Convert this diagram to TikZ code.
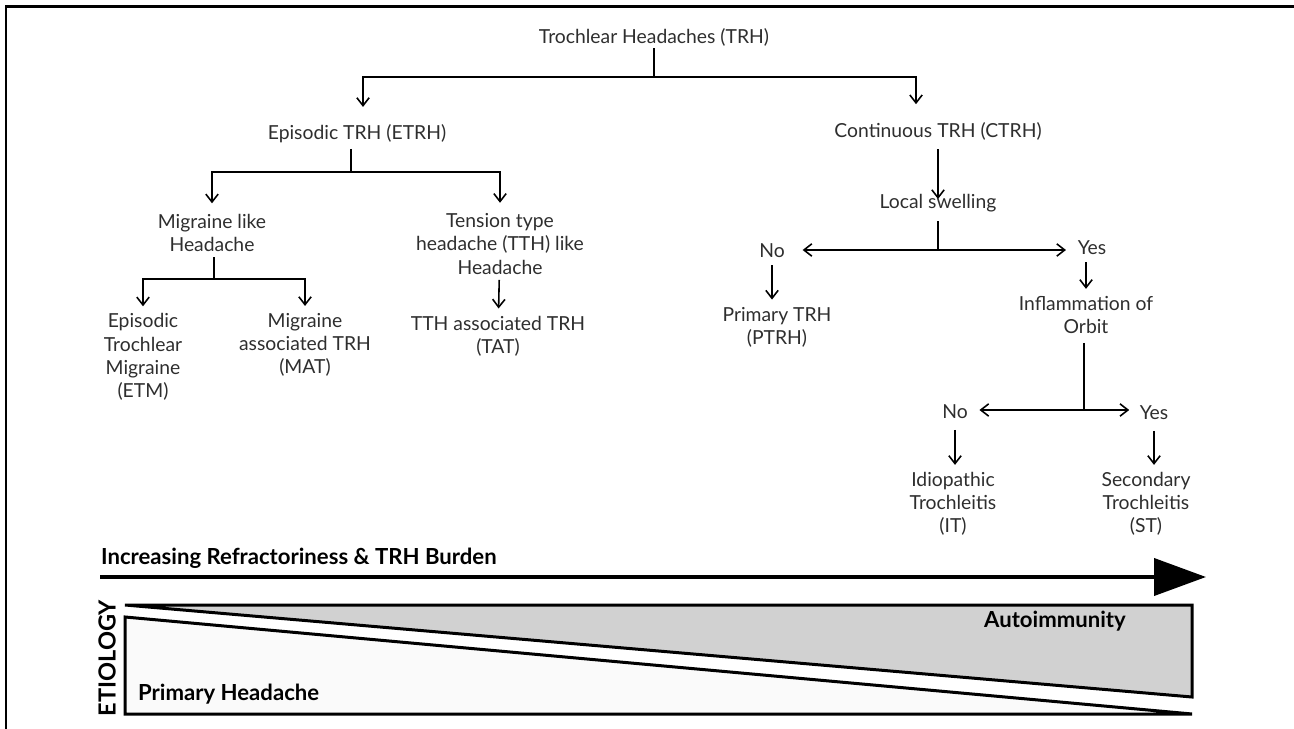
\documentclass[tikz,border=0pt]{standalone}
\usepackage{fontspec}
\setmainfont{Lato}
\usetikzlibrary{arrows.meta}

\begin{document}
\begin{tikzpicture}[x=0.02cm,y=-0.02cm,
  txt/.style={align=center, inner sep=1pt, text=black!82, font=\fontsize{11}{13.2}\selectfont},
  big/.style={inner sep=1pt, font=\fontsize{12.6}{15}\selectfont\bfseries},
  ln/.style={line width=0.9pt},
  arr/.style={ln, -{Straight Barb[length=4.5pt,width=7pt]}, shorten >=3pt},
  thk/.style={line width=0.06cm, line join=miter}]
\useasboundingbox (0,0) rectangle (1294,729);
\draw[thk] (6,729) -- (6,7) -- (1294,7);

\node[txt] (trh) at (654,37) {Trochlear Headaches (TRH)};
\node[txt] (etrh) at (357,134) {Episodic TRH (ETRH)};
\node[txt] (ctrh) at (938,131) {Continuous TRH (CTRH)};
\coordinate (trhJ) at (654,77);
\coordinate (kL) at (363,77);
\coordinate (kR) at (916,77);
\draw[ln] (trh) -- (trhJ);
\draw[arr, shorten >=9pt] (trhJ) -- (kL) -- (kL |- etrh.north);
\draw[arr, shorten >=9pt] (trhJ) -- (kR) -- (kR |- ctrh.north);

\node[txt] (mlh) at (212,233) {Migraine like\\Headache};
\node[txt] (tth) at (500,244) {Tension type\\headache (TTH) like\\Headache};
\coordinate (etrhJ) at (351,172);
\draw[ln, shorten <=2pt] (etrh.south -| etrhJ) -- (etrhJ);
\draw[arr, shorten >=5pt] (etrhJ) -| (mlh);
\draw[arr, shorten >=5pt] (etrhJ) -| (tth);

\node[txt] (etm) at (143,357) {Episodic\\Trochlear\\Migraine\\(ETM)};
\node[txt] (mat) at (305,345) {Migraine\\associated TRH\\(MAT)};
\node[txt] (tat) at (498,336) {TTH associated TRH\\(TAT)};
\coordinate (mlhJ) at (214,279);
\draw[ln, shorten <=2pt] (mlh.south -| mlhJ) -- (mlhJ);
\draw[arr] (mlhJ) -| (etm);
\draw[arr] (mlhJ) -| (mat);
\draw[arr, shorten <=2pt] (tth) -- (tat);

\node[txt] (ls) at (938,203) {Local swelling};
\draw[arr, shorten >=-4pt, shorten <=4pt] (ctrh) -- (ls);
\node[txt] (no1) at (772,251) {No};
\node[txt] (yes1) at (1092,248) {Yes};
\coordinate (lsJ) at (938,250);
\draw[ln, shorten <=4pt] (ls) -- (lsJ);
\draw[arr, shorten >=9pt] (lsJ) -- (lsJ -| no1.east);
\draw[arr, shorten >=5.5pt] (lsJ) -- (lsJ -| yes1.west);

\node[txt] (ptrh) at (777,327) {Primary TRH\\(PTRH)};
\node[txt] (inf) at (1086,315) {Inflammation of\\Orbit};
\draw[arr, shorten <=3pt] (no1.south) -- (no1.south |- ptrh.north);
\draw[arr, shorten <=3pt] (yes1.south -| inf) -- (inf);

\node[txt] (no2) at (955,412) {No};
\node[txt] (yes2) at (1154,413) {Yes};
\coordinate (infJ) at (1084,410);
\draw[ln, shorten <=4pt] (inf.south -| infJ) -- (infJ);
\draw[arr, shorten >=5.5pt] (infJ) -- (infJ -| no2.east);
\draw[arr, shorten >=4.8pt] (infJ) -- (infJ -| yes2.west);

\node[txt] (it) at (953,504) {Idiopathic\\Trochleitis\\(IT)};
\node[txt] (st) at (1146,504) {Secondary\\Trochleitis\\(ST)};
\draw[arr, shorten <=5pt] (no2.south) -- (no2.south |- it.north);
\draw[arr, shorten <=5pt] (yes2.south) -- (yes2.south |- st.north);

\node[big, anchor=west] (burden) at (99,558) {Increasing Refractoriness \& TRH Burden};
\coordinate (bS) at (100,577);
\coordinate (bE) at (1206,577);
\draw[line width=0.08cm, -{Triangle[length=1.04cm,width=0.74cm]}] (bS) -- (bE);

\draw[thk, fill=black!18] (125,605) -- (1192,605) -- (1192,697) -- cycle;
\draw[thk, fill=black!2] (125,617) -- (1192,714) -- (125,714) -- cycle;
\node[big] (auto) at (1055,621) {Autoimmunity};
\node[big, anchor=west] (prim) at (136,694) {Primary Headache};
\node[big, rotate=90, font=\fontsize{13.4}{15}\selectfont\bfseries] (etio) at (107,658) {ETIOLOGY};
\end{tikzpicture}
\end{document}
